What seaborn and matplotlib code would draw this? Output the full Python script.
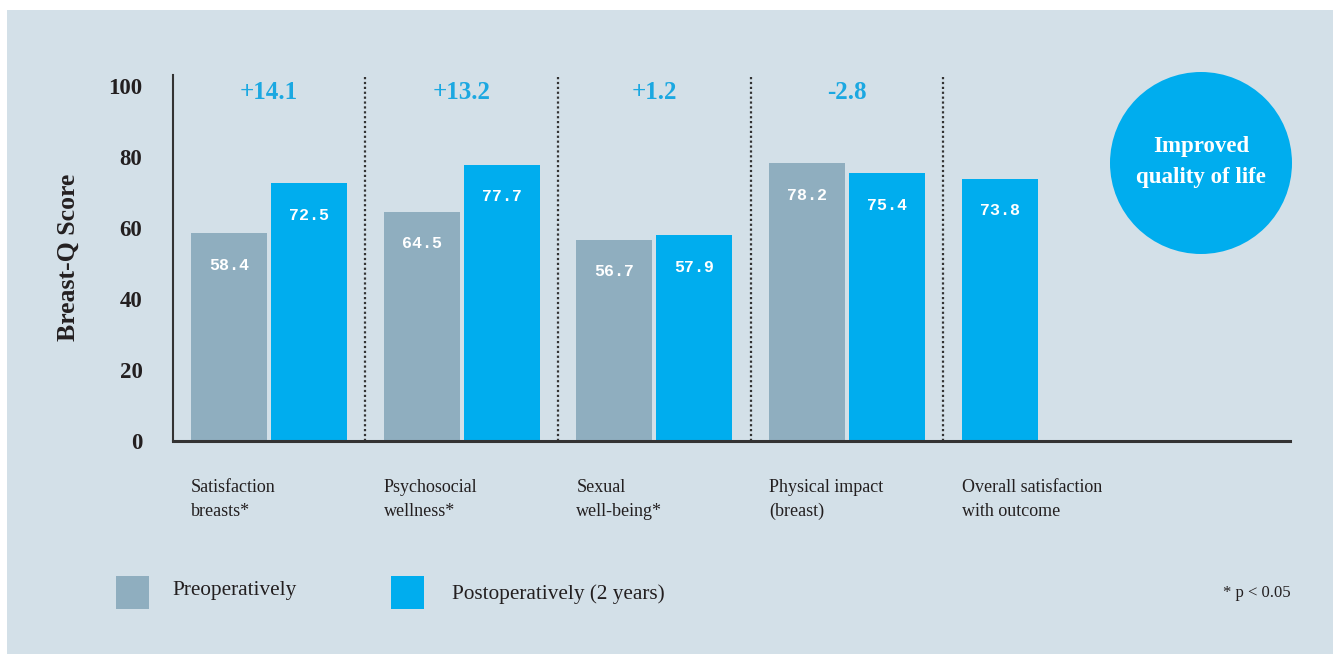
import matplotlib
matplotlib.use("Agg")
import matplotlib.pyplot as plt
from matplotlib.patches import Rectangle, Ellipse
from matplotlib.transforms import blended_transform_factory
import seaborn as sns
import pandas as pd
import numpy as np

# ---- data ----
categories = ["Satisfaction\nbreasts*", "Psychosocial\nwellness*", "Sexual\nwell-being*",
              "Physical impact\n(breast)", "Overall satisfaction\nwith outcome"]
pre_values = [58.4, 64.5, 56.7, 78.2, None]
post_values = [72.5, 77.7, 57.9, 75.4, 73.8]
deltas = ["+14.1", "+13.2", "+1.2", "-2.8"]
series_names = ["Preoperatively", "Postoperatively (2 years)"]
y_ticks = [0, 20, 40, 60, 80, 100]
y_label = "Breast-Q Score"
badge_text = "Improved\nquality of life"
footnote = "* p < 0.05"

# ---- style ----
PANEL = "#d3e0e8"
GREY = "#8faebf"
CYAN = "#00adee"
DELTA_C = "#1ba8e1"
DARK = "#231f20"
SERIF = ["Liberation Serif", "DejaVu Serif"]
MONO = ["Liberation Mono", "DejaVu Sans Mono"]

W, H = 1333, 654
fig = plt.figure(figsize=(W / 100, H / 100), dpi=100)
fig.patch.set_facecolor("white")
plt.rcParams["font.family"] = SERIF

fig.add_artist(Rectangle((7 / W, 0), 1 - 7 / W, 1 - 10 / H, transform=fig.transFigure,
                         facecolor=PANEL, edgecolor="none", zorder=0))

ax = fig.add_axes([173 / W, 1 - 441 / H, (1290 - 173) / W, (441 - 75) / H])
ax.set_facecolor("none")

off = 0.2076
rows = []
for i, (p, q) in enumerate(zip(pre_values, post_values)):
    if p is not None:
        rows.append({"pos": i - off, "score": p, "series": series_names[0]})
        rows.append({"pos": i + off, "score": q, "series": series_names[1]})
    else:
        rows.append({"pos": i - off, "score": q, "series": series_names[1]})
df = pd.DataFrame(rows)

sns.barplot(data=df, x="pos", y="score", hue="series", native_scale=True, dodge=False,
            palette={series_names[0]: GREY, series_names[1]: CYAN}, width=0.95,
            saturation=1, legend=False, ax=ax, zorder=2, linewidth=0)

ax.set_xlim(-0.498, 5.298)
ax.set_ylim(0, 103)
ax.set_yticks(y_ticks)
ax.set_yticklabels([str(t) for t in y_ticks], fontsize=16.5, fontweight="bold", color=DARK)
ax.tick_params(axis="y", length=0, pad=22)
ax.set_xticks([])
ax.set_xlabel("")
ax.set_ylabel(y_label, fontsize=18.5, fontweight="bold", color=DARK)
ax.yaxis.set_label_coords(-0.0833, 0.503)

for s in ["top", "right"]:
    ax.spines[s].set_visible(False)
ax.spines["left"].set_color("#333333")
ax.spines["left"].set_linewidth(1.5)
ax.spines["bottom"].set_color("#333333")
ax.spines["bottom"].set_linewidth(2.2)
ax.spines["bottom"].set_zorder(3)

# separators
for i in range(len(deltas)):
    ax.plot([i + 0.5, i + 0.5], [0, 103], linestyle=(0, (1, 1.2)), color="#333333",
            linewidth=1.6, zorder=1, clip_on=False)

# value labels inside bars
for _, r in df.iterrows():
    ax.annotate(f"{r['score']:.1f}", (r["pos"], r["score"]), xytext=(0, -23),
                textcoords="offset points", ha="center", va="center", color="white",
                fontsize=12, fontweight="bold", family=MONO, zorder=4)

# delta labels
for i, d in enumerate(deltas):
    ax.text(i, 98.0, d, ha="center", va="center", color=DELTA_C, fontsize=18,
            fontweight="bold")

# category labels
tr = blended_transform_factory(ax.transData, fig.transFigure)
for i, c in enumerate(categories):
    ax.text(i - off - 0.197, 1 - 479 / H, c, transform=tr, ha="left", va="top",
            fontsize=13, color=DARK, linespacing=1.5)

# legend
for (x0, name, col) in [(116, series_names[0], GREY), (391, series_names[1], CYAN)]:
    fig.add_artist(Rectangle((x0 / W, 1 - 609 / H), 33 / W, 33 / H, transform=fig.transFigure,
                             facecolor=col, edgecolor="none"))
fig.text(172 / W, 1 - 591 / H, series_names[0], ha="left", va="center", fontsize=15.3, color=DARK)
fig.text(452 / W, 1 - 594 / H, series_names[1], ha="left", va="center", fontsize=15.3, color=DARK)

fig.text(1291 / W, 1 - 593 / H, footnote, ha="right", va="center", fontsize=12, color=DARK)

# badge
fig.add_artist(Ellipse((1201 / W, 1 - 163 / H), 182 / W, 182 / H, transform=fig.transFigure,
                       facecolor=CYAN, edgecolor="none"))
fig.text(1201 / W, 1 - 162 / H, badge_text, ha="center", va="center", fontsize=16.5,
         fontweight="bold", color="white", linespacing=1.6)

fig.savefig("out.png", dpi=100)
